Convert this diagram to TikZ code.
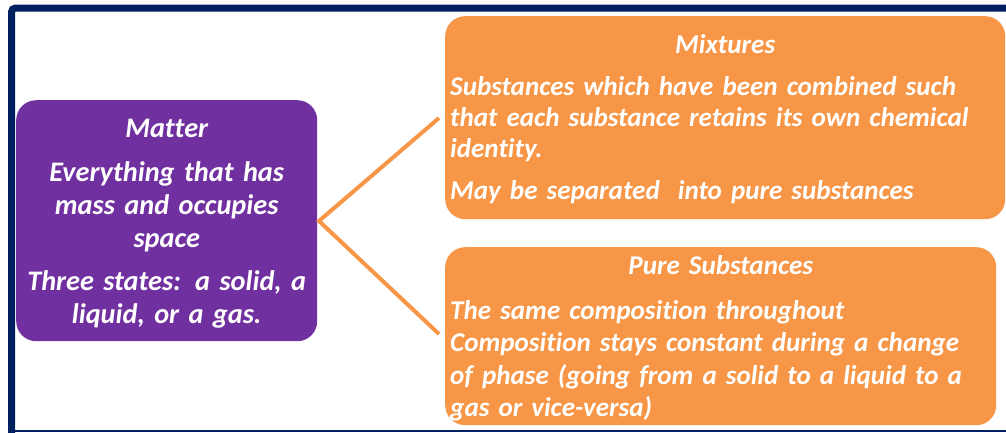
\documentclass[tikz,border=0pt]{standalone}
\usepackage{fontspec}
\setmainfont{Carlito}[Ligatures=NoCommon]
\definecolor{navy}{HTML}{002060}
\definecolor{purp}{HTML}{7030A0}
\definecolor{orng}{HTML}{F79646}
\begin{document}
\begin{tikzpicture}[x=1pt,y=-1pt,
  box/.style={rounded corners=20pt, inner sep=0pt, anchor=north west},
  txt/.style={inner sep=0pt, text=white},
  link/.style={draw=orng, line width=4pt}
]
\useasboundingbox (0,0) rectangle (1006,432);
\fill[white] (0,0) rectangle (1006,432);
\draw[navy, line width=7pt, rounded corners=4pt] (11.5,440) -- (11.5,8) -- (1015,8);
\draw[navy, line width=2pt] (8,431) -- (1010,431);

\node[box, fill=purp, minimum width=301pt, minimum height=241pt] (matter) at (16,100) {};
\node[txt, text width=301pt, align=center, font=\fontsize{28.3}{33}\selectfont\bfseries\itshape]
  (mattertxt) at ([yshift=-3.5pt]matter.center)
 {Matter\\[11pt] Everything that has\\ mass and occupies\\ space\\[10pt] Three states: a solid, a\\ liquid, or a gas.};

\node[box, fill=orng, minimum width=560pt, minimum height=203pt] (mix) at (445,16) {};
\node[txt, text width=550pt, align=left, font=\fontsize{27.1}{31}\selectfont\bfseries\itshape]
  (mixtxt) at ([yshift=-1pt]mix.center)
 {\makebox[550pt]{Mixtures}\\[11pt] Substances which have been combined such\\ that each substance retains its own chemical\\ identity.\\[11pt] May be separated\ \ into pure substances};

\node[box, fill=orng, minimum width=551pt, minimum height=178pt] (pure) at (445,247) {};
\node[txt, text width=541pt, align=left, font=\fontsize{27.1}{32.5}\selectfont\bfseries\itshape]
  (puretxt) at ([yshift=-2.5pt]pure.center)
 {\makebox[541pt]{Pure Substances}\\[12pt] The same composition throughout\\ Composition stays constant during a change\\ of phase (going from a solid to a liquid to a\\ gas or vice-versa)};

\coordinate (apex) at (319,221);
\coordinate (mixend) at (439,118);
\coordinate (pureend) at (439,334);
\draw[link] (mixend) -- (apex) -- (pureend);
\end{tikzpicture}
\end{document}
